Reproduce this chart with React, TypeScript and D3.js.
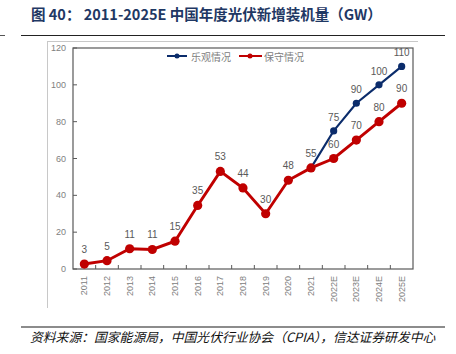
import React from "react";
import * as d3 from "d3";

// chart data
const years = ["2011", "2012", "2013", "2014", "2015", "2016", "2017", "2018", "2019", "2020", "2021", "2022E", "2023E", "2024E", "2025E"];
const conservative = [2.7, 4.5, 11, 10.6, 15.1, 34.5, 53, 44, 30, 48.2, 54.9, 60, 70, 80, 90];
const optimistic: (number | null)[] = [null, null, null, null, null, null, null, null, null, null, 54.9, 75, 90, 100, 110];
const yTicks = [0, 20, 40, 60, 80, 100, 120];

const RED = "#c00000";
const BLUE = "#0b2c6b";
const GRAY = "#808080";
const CJK = "'Noto Sans CJK SC', 'Liberation Sans', Arial, sans-serif";
const LATIN = "'Liberation Sans', Arial, sans-serif";

export default function App() {
  const left = 73, right = 413, top = 48, bottom = 269;
  const x = d3.scaleBand<string>().domain(years).range([left, right]);
  const y = d3.scaleLinear().domain([0, 120]).range([bottom, top]);
  const cx = (d: string) => (x(d) as number) + x.bandwidth() / 2;

  const line = d3
    .line<number | null>()
    .defined((d) => d != null)
    .x((_, i) => cx(years[i]))
    .y((d) => y(d as number));

  return (
    <svg width={456} height={354} style={{ position: "absolute", left: 0, top: 0, background: "#fff" }} fontFamily={CJK}>
      {/* title */}
      <text x={31} y={20} fontSize={14.5} fontWeight="bold" fill="#1f3864">
        图 40：  2011-2025E 中国年度光伏新增装机量（GW）
      </text>
      <line x1={21} x2={445} y1={35.5} y2={35.5} stroke="#222" strokeWidth={1} />
      <line x1={0} x2={5} y1={35.5} y2={35.5} stroke="#555" strokeWidth={1} />

      {/* chart area frame */}
      <line x1={47} x2={418} y1={41.5} y2={41.5} stroke="#c8c8c8" />
      <line x1={47.5} x2={47.5} y1={41} y2={308} stroke="#c8c8c8" />

      {/* plot border */}
      <rect x={left} y={top} width={right - left} height={bottom - top} fill="none" stroke="#595959" strokeWidth={1.2} />

      {/* y ticks */}
      {yTicks.map((t) => (
        <g key={t}>
          <line x1={left} x2={left + 4} y1={y(t)} y2={y(t)} stroke="#595959" />
          <text x={66} y={y(t)} fontSize={9} fill={GRAY} textAnchor="end" dominantBaseline="central" fontFamily={LATIN}>
            {t}
          </text>
        </g>
      ))}

      {/* x ticks and labels */}
      {years.map((d, i) => (
        <g key={d}>
          {i > 0 && <line x1={x(d)} x2={x(d)} y1={bottom} y2={bottom - 4} stroke="#595959" />}
          <text
            transform={`translate(${cx(d)},276) rotate(-90)`}
            fontSize={9}
            fill={GRAY}
            textAnchor="end"
            dominantBaseline="central"
            fontFamily={LATIN}
          >
            {d}
          </text>
        </g>
      ))}

      {/* series */}
      <path d={line(conservative) || ""} fill="none" stroke={RED} strokeWidth={2.9} />
      <path d={line(optimistic) || ""} fill="none" stroke={BLUE} strokeWidth={2.1} />
      {conservative.map((v, i) => (
        <circle key={"c" + i} cx={cx(years[i])} cy={y(v)} r={4.6} fill={RED} />
      ))}
      {optimistic.map((v, i) =>
        v == null || i === 10 ? null : <circle key={"o" + i} cx={cx(years[i])} cy={y(v)} r={3.6} fill={BLUE} />
      )}

      {/* data labels */}
      {conservative.map((v, i) => (
        <text key={"lc" + i} x={cx(years[i])} y={y(v) - 11} fontSize={10} fill="#595959" textAnchor="middle" fontFamily={LATIN}>
          {Math.round(v)}
        </text>
      ))}
      {optimistic.map((v, i) =>
        v == null || i === 10 ? null : (
          <text key={"lo" + i} x={cx(years[i])} y={y(v) - 10} fontSize={10} fill="#595959" textAnchor="middle" fontFamily={LATIN}>
            {Math.round(v)}
          </text>
        )
      )}

      {/* legend */}
      <line x1={167} x2={187} y1={56} y2={56} stroke={BLUE} strokeWidth={2} />
      <circle cx={177} cy={56} r={2.5} fill={BLUE} />
      <text x={191} y={56} fontSize={10} fill={GRAY} dominantBaseline="central">乐观情况</text>
      <line x1={239} x2={262} y1={56} y2={56} stroke={RED} strokeWidth={2} />
      <circle cx={250} cy={56} r={2.5} fill={RED} />
      <text x={264} y={56} fontSize={10} fill={GRAY} dominantBaseline="central">保守情况</text>

      {/* source */}
      <line x1={21} x2={445} y1={327} y2={327} stroke="#666" strokeWidth={1.3} />
      <text x={30} y={342} fontSize={12.8} fontStyle="italic" fill="#111">
        资料来源：国家能源局，中国光伏行业协会（CPIA），信达证券研发中心
      </text>
    </svg>
  );
}
